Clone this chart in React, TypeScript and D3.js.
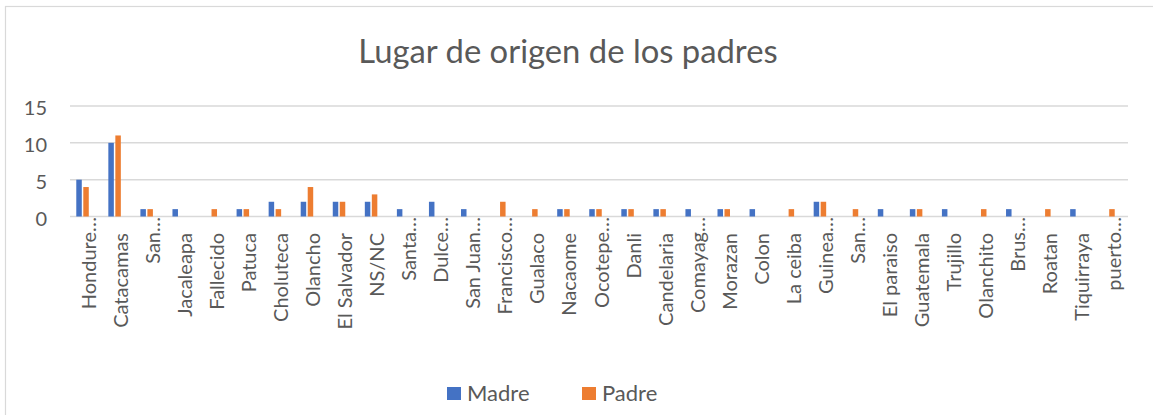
import { useEffect, useRef } from "react"
import * as d3 from "d3"

const categories = [
  "Hondure…", "Catacamas", "San…", "Jacaleapa", "Fallecido", "Patuca", "Choluteca",
  "Olancho", "El Salvador", "NS/NC", "Santa…", "Dulce…", "San Juan…", "Francisco…",
  "Gualaco", "Nacaome", "Ocotepe…", "Danli", "Candelaria", "Comayag…", "Morazan",
  "Colon", "La ceiba", "Guinea…", "San…", "El paraiso", "Guatemala", "Trujillo",
  "Olanchito", "Brus…", "Roatan", "Tiquirraya", "puerto…",
]
const madre = [5, 10, 1, 1, 0, 1, 2, 2, 2, 2, 1, 2, 1, 0, 0, 1, 1, 1, 1, 1, 1, 1, 0, 2, 0, 1, 1, 1, 0, 1, 0, 1, 0]
const padre = [4, 11, 1, 0, 1, 1, 1, 4, 2, 3, 0, 0, 0, 2, 1, 1, 1, 1, 1, 0, 1, 0, 1, 2, 1, 0, 1, 0, 1, 0, 1, 0, 1]
const seriesNames = ["Madre", "Padre"]
const seriesColors = ["#4472C4", "#ED7D31"]
const yTicks = [0, 5, 10, 15]

const W = 1153
const H = 415
const FONT = "Lato, 'Noto Sans', sans-serif"
const TEXT = "#595959"

export default function App() {
  const svgRef = useRef<SVGSVGElement>(null)

  useEffect(() => {
    if (!svgRef.current) return
    const svg = d3.select(svgRef.current)
    svg.selectAll("*").remove()

    const plot = { left: 70, right: 1128, top: 106, bottom: 216.5 }

    // chart frame (only left/top edges are in view)
    svg.append("rect")
      .attr("x", 5.5).attr("y", 6.5)
      .attr("width", W + 20).attr("height", H + 20)
      .attr("fill", "white").attr("stroke", "#D9D9D9").attr("stroke-width", 1.2)

    svg.append("text")
      .attr("x", 568).attr("y", 63)
      .attr("text-anchor", "middle")
      .attr("font-family", FONT).attr("font-size", 32.8)
      .attr("fill", TEXT)
      .text("Lugar de origen de los padres")

    const x = d3.scaleBand<number>()
      .domain(d3.range(categories.length))
      .range([plot.left, plot.right])

    // third slot is an empty series in the source workbook
    const xs = d3.scaleBand<string>()
      .domain([...seriesNames, "_"])
      .range([-9.75, 9.75])
      .paddingInner(0.214)

    const y = d3.scaleLinear().domain([0, 15]).range([plot.bottom, plot.top])

    const g = svg.append("g")

    g.selectAll(".grid")
      .data(yTicks)
      .enter()
      .append("line")
      .attr("x1", plot.left).attr("x2", plot.right)
      .attr("y1", (d) => y(d)).attr("y2", (d) => y(d))
      .attr("stroke", "#D9D9D9").attr("stroke-width", 1.5)

    g.selectAll(".ytick")
      .data(yTicks)
      .enter()
      .append("text")
      .attr("x", 47).attr("y", (d) => y(d) + 1)
      .attr("text-anchor", "end").attr("dominant-baseline", "central")
      .attr("font-family", FONT).attr("font-size", 20).attr("fill", TEXT)
      .text((d) => d)

    const series = [madre, padre]
    series.forEach((vals, si) => {
      vals.forEach((v, i) => {
        if (v <= 0) return
        g.append("rect")
          .attr("x", (x(i) || 0) + x.bandwidth() / 2 + (xs(seriesNames[si]) || 0))
          .attr("width", xs.bandwidth())
          .attr("y", y(v))
          .attr("height", y(0) - y(v))
          .attr("fill", seriesColors[si])
      })
    })

    const labelSize = 20
    g.selectAll(".xlabel")
      .data(categories)
      .enter()
      .append("text")
      .attr("transform", (d, i) => {
        const cx = (x(i) || 0) + x.bandwidth() / 2
        const top = d.endsWith("…") ? 217 : 233
        return `translate(${cx},${top}) rotate(-90)`
      })
      .attr("y", 9.5)
      .attr("text-anchor", "end")
      .attr("font-family", FONT).attr("font-size", labelSize).attr("fill", TEXT)
      .text((d) => d)

    const legend = svg.append("g")
    const legendItems = [
      { name: seriesNames[0], x: 447 },
      { name: seriesNames[1], x: 582 },
    ]
    legendItems.forEach((it, i) => {
      legend.append("rect")
        .attr("x", it.x).attr("y", 387)
        .attr("width", 14).attr("height", 13)
        .attr("fill", seriesColors[i])
      legend.append("text")
        .attr("x", it.x + 20).attr("y", 401)
        .attr("font-family", FONT).attr("font-size", 22).attr("fill", TEXT)
        .text(it.name)
    })
  }, [])

  return (
    <svg
      ref={svgRef}
      width={W}
      height={H}
      style={{ position: "absolute", left: 0, top: 0, background: "white" }}
    />
  )
}
